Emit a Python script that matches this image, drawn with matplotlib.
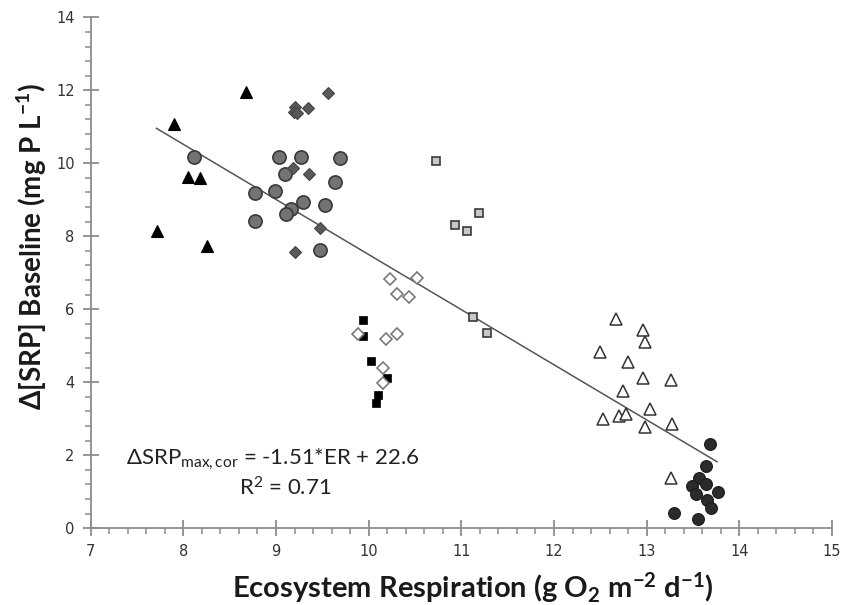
import matplotlib
matplotlib.use("Agg")
import matplotlib.pyplot as plt
from matplotlib.ticker import MultipleLocator
from matplotlib import font_manager as fm

# pick a humanist sans with a real bold face (Calibri-like look)
bold_family = 'DejaVu Sans'
for cand in ['Lato', 'Open Sans', 'Noto Sans', 'Roboto', 'Liberation Sans']:
    try:
        p = fm.findfont(fm.FontProperties(family=cand, weight='bold'), fallback_to_default=False)
        if 'bold' in p.lower():
            bold_family = cand
            break
    except Exception:
        pass
reg_family = 'Lato'

plt.rcParams['mathtext.fontset'] = 'custom'
plt.rcParams['mathtext.rm'] = reg_family
plt.rcParams['mathtext.bf'] = bold_family + ':bold'
plt.rcParams['mathtext.it'] = reg_family + ':italic'

# ---- data ----
tri_black_x = [7.72, 7.90, 8.05, 8.18, 8.25, 8.68]
tri_black_y = [8.15, 11.08, 9.62, 9.59, 7.74, 11.96]

circ_gray_x = [8.11, 8.77, 8.77, 8.99, 9.03, 9.27, 9.10, 9.69, 9.64, 9.29, 9.53, 9.16, 9.11, 9.47]
circ_gray_y = [10.18, 9.19, 8.43, 9.25, 10.18, 10.18, 9.71, 10.14, 9.50, 8.95, 8.86, 8.76, 8.61, 7.62]

dia_dark_x = [9.56, 9.21, 9.34, 9.19, 9.23, 9.18, 9.36, 9.47, 9.21]
dia_dark_y = [11.93, 11.55, 11.51, 11.41, 11.37, 9.86, 9.71, 8.22, 7.58]

sq_black_x = [9.94, 9.94, 10.03, 10.20, 10.10, 10.08]
sq_black_y = [5.71, 5.27, 4.59, 4.13, 3.65, 3.44]

dia_open_x = [10.23, 10.52, 10.31, 10.44, 9.88, 10.19, 10.31, 10.16, 10.15]
dia_open_y = [6.82, 6.87, 6.42, 6.35, 5.32, 5.19, 5.32, 4.38, 3.99]

sq_light_x = [10.73, 11.19, 10.93, 11.06, 11.13, 11.28]
sq_light_y = [10.06, 8.65, 8.31, 8.15, 5.80, 5.36]

tri_open_x = [12.67, 12.96, 12.98, 12.50, 12.80, 12.96, 13.26, 12.75, 13.04, 12.53, 12.70, 12.78, 12.98, 13.27, 13.26]
tri_open_y = [5.73, 5.43, 5.10, 4.84, 4.55, 4.11, 4.06, 3.77, 3.27, 3.00, 3.08, 3.12, 2.78, 2.87, 1.37]

circ_black_x = [13.68, 13.64, 13.56, 13.49, 13.64, 13.53, 13.77, 13.65, 13.69, 13.29, 13.55]
circ_black_y = [2.30, 1.71, 1.37, 1.17, 1.21, 0.94, 0.99, 0.78, 0.55, 0.43, 0.25]

fit_slope = -1.51
fit_intercept = 22.6
fit_x = [7.71, 13.76]

equation_text = r'ΔSRP$_{\mathrm{max,cor}}$ = -1.51*ER + 22.6'
r2_text = r'R$^{\mathrm{2}}$ = 0.71'
xlabel_text = r'Ecosystem Respiration (g O$_{\mathbf{2}}$ m$^{\mathbf{-2}}$ d$^{\mathbf{-1}}$)'
ylabel_text = r'Δ[SRP] Baseline (mg P L$^{\mathbf{-1}}$)'

W, H = 842, 605
fig = plt.figure(figsize=(W / 100, H / 100), dpi=100)
ax = fig.add_axes([0.1077, 0.1268, 0.8804, 0.8446])

ax.plot(fit_x, [fit_slope * v + fit_intercept for v in fit_x], color='#555555', lw=1.1, zorder=1)

ax.plot(tri_black_x, tri_black_y, ls='none', marker='^', ms=9, mfc='black', mec='black', mew=0.8, zorder=3)
ax.plot(circ_gray_x, circ_gray_y, ls='none', marker='o', ms=9.5, mfc='#737373', mec='#3a3a3a', mew=1.2, zorder=3)
ax.plot(dia_dark_x, dia_dark_y, ls='none', marker='D', ms=6.3, mfc='#595959', mec='#444444', mew=0.8, zorder=4)
ax.plot(sq_black_x, sq_black_y, ls='none', marker='s', ms=5.8, mfc='black', mec='black', mew=0.5, zorder=3)
ax.plot(dia_open_x, dia_open_y, ls='none', marker='D', ms=6.3, mfc='white', mec='#7a7a7a', mew=1.2, zorder=4)
ax.plot(sq_light_x, sq_light_y, ls='none', marker='s', ms=6, mfc='#c8c8c8', mec='#3a3a3a', mew=1.2, zorder=3)
ax.plot(tri_open_x, tri_open_y, ls='none', marker='^', ms=9, mfc='white', mec='#333333', mew=1.1, zorder=3)
ax.plot(circ_black_x, circ_black_y, ls='none', marker='o', ms=8.5, mfc='#2b2b2b', mec='#1a1a1a', mew=0.8, zorder=3)

ax.set_xlim(7, 15)
ax.set_ylim(0, 14)
ax.xaxis.set_major_locator(MultipleLocator(1))
ax.xaxis.set_minor_locator(MultipleLocator(0.2))
ax.yaxis.set_major_locator(MultipleLocator(2))
ax.yaxis.set_minor_locator(MultipleLocator(0.4))

for s in ['top', 'right']:
    ax.spines[s].set_visible(False)
for s in ['left', 'bottom']:
    ax.spines[s].set_color('#8c8c8c')
    ax.spines[s].set_linewidth(1.3)

ax.tick_params(which='major', direction='inout', length=11, width=1.3, color='#8c8c8c',
               labelsize=10.5, labelcolor='#333333', pad=6)
ax.tick_params(which='minor', direction='out', length=4, width=1.1, color='#8c8c8c')
for lab in ax.get_xticklabels() + ax.get_yticklabels():
    lab.set_family('DejaVu Sans')

def fitted_text(x_px, y_px, s, target_px, rotation=0, weight='normal', family=None, color='#1a1a1a'):
    t = fig.text(x_px / W, 1 - y_px / H, s, ha='center', va='center', rotation=rotation,
                 fontsize=16, fontweight=weight, family=family, color=color)
    r = fig.canvas.get_renderer()
    bb = t.get_window_extent(renderer=r)
    size = bb.height if rotation == 90 else bb.width
    t.set_fontsize(16 * target_px / size)
    return t

fitted_text(473, 588, xlabel_text, 483, weight='bold', family=[bold_family, 'DejaVu Sans'])
fitted_text(32, 246, ylabel_text, 328, rotation=90, weight='bold', family=[bold_family, 'DejaVu Sans'])
eq = fitted_text(273, 459, equation_text, 294, family=[reg_family, 'DejaVu Sans'], color='#222222')
fig.text(285 / W, 1 - 488 / H, r2_text, ha='center', va='center',
         fontsize=eq.get_fontsize(), family=[reg_family, 'DejaVu Sans'], color='#222222')

fig.savefig('out.png', dpi=100)
